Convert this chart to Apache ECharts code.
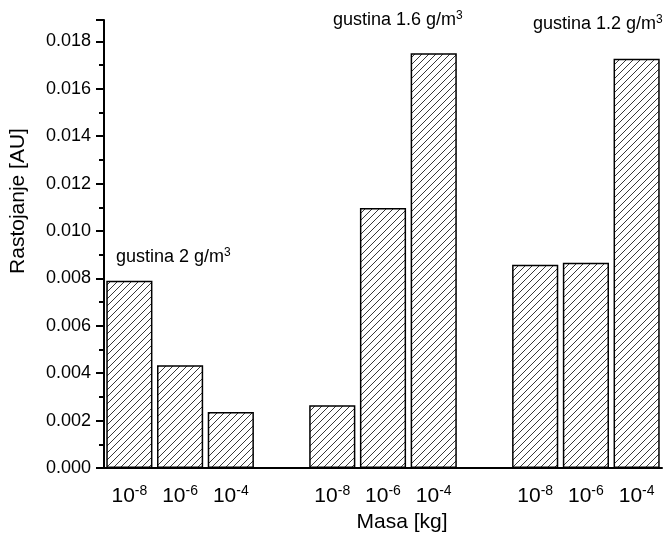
<!DOCTYPE html>
<html>
<head>
<meta charset="utf-8">
<script src="https://cdn.jsdelivr.net/npm/echarts@6/dist/echarts.min.js"></script>
<style>
  html, body { margin: 0; padding: 0; background: #fff; }
  #chart { width: 666px; height: 535px; }
</style>
</head>
<body>
<div id="chart"></div>
<script>
// masa (eksponent od 10) za svaku grupu
const exponents = ['-8', '-6', '-4']
// rastojanje [AU] po gustini
const gustina2 = [0.0079, 0.00433, 0.00236]
const gustina16 = [0.00265, 0.01097, 0.0175]
const gustina12 = [0.00857, 0.00866, 0.01726]
const groupNames = ['gustina 2 g/m', 'gustina 1.6 g/m', 'gustina 1.2 g/m']
const yTicks = [0, 0.002, 0.004, 0.006, 0.008, 0.010, 0.012, 0.014, 0.016, 0.018]

const font = 'Liberation Sans, Arial, sans-serif'

// kategorije sa praznim mestom izmedju grupa
const categories = []
const values = []
const groups = [gustina2, gustina16, gustina12]
groups.forEach((g, gi) => {
  if (gi > 0) {
    categories.push('')
    values.push('-')
  }
  g.forEach((v, i) => {
    categories.push(exponents[i])
    values.push(v)
  })
})

// srafura za stubove
function hatch () {
  const size = 7
  const c = document.createElement('canvas')
  c.width = size
  c.height = size
  const ctx = c.getContext('2d')
  ctx.fillStyle = '#fff'
  ctx.fillRect(0, 0, size, size)
  ctx.strokeStyle = '#222'
  ctx.lineWidth = 0.9
  for (let k = -1; k <= 1; k++) {
    ctx.beginPath()
    ctx.moveTo(k * size, size)
    ctx.lineTo(k * size + size, 0)
    ctx.stroke()
  }
  return c
}

const supRich = {
  b: { fontSize: 18, fontFamily: font, color: '#000' },
  s: { fontSize: 12, fontFamily: font, color: '#000', padding: [0, 0, 9, 0] }
}

const chart = echarts.init(document.getElementById('chart'))
chart.setOption({
  animation: false,
  grid: { left: 104, right: 4, top: 20, bottom: 67 },
  xAxis: [
    {
      type: 'category',
      data: categories,
      axisLine: { lineStyle: { color: '#000', width: 2 } },
      axisTick: { alignWithLabel: true, interval: 0, length: 8, lineStyle: { color: '#000', width: 2 } },
      axisLabel: {
        interval: 0,
        margin: 16,
        formatter: v => v ? '{b|10}{s|' + v + '}' : '',
        rich: {
          b: { fontSize: 21, fontFamily: font, color: '#000' },
          s: { fontSize: 14, fontFamily: font, color: '#000', padding: [0, 0, 11, 0] }
        }
      }
    },
    {
      type: 'category',
      data: categories,
      position: 'bottom',
      axisLine: { show: false },
      axisTick: { interval: 0, length: 4, lineStyle: { color: '#000', width: 2 } },
      axisLabel: { show: false }
    }
  ],
  yAxis: {
    type: 'value',
    min: 0,
    max: 0.0189,
    interval: 0.002,
    axisLine: { show: true, lineStyle: { color: '#000', width: 2 } },
    axisTick: { show: true, length: 8, lineStyle: { color: '#000', width: 2 } },
    minorTick: { show: true, splitNumber: 2, length: 5, lineStyle: { color: '#000', width: 2 } },
    splitLine: { show: false },
    axisLabel: {
      margin: 13,
      fontSize: 18,
      fontFamily: font,
      color: '#000',
      formatter: v => yTicks.some(t => Math.abs(t - v) < 1e-9) ? v.toFixed(3) : ''
    }
  },
  graphic: [
    {
      type: 'text',
      x: 18,
      y: 201,
      rotation: Math.PI / 2,
      style: { text: 'Rastojanje [AU]', font: '21px ' + font, fill: '#000', align: 'center', verticalAlign: 'middle' }
    },
    {
      type: 'text',
      x: 402,
      y: 522,
      style: { text: 'Masa [kg]', font: '21px ' + font, fill: '#000', align: 'center', verticalAlign: 'middle' }
    },
    {
      type: 'text',
      x: 116,
      y: 257,
      style: { text: '{b|' + groupNames[0] + '}{s|3}', rich: supRich, align: 'left', verticalAlign: 'middle' }
    },
    {
      type: 'text',
      x: 333,
      y: 20,
      style: { text: '{b|' + groupNames[1] + '}{s|3}', rich: supRich, align: 'left', verticalAlign: 'middle' }
    },
    {
      type: 'text',
      x: 533,
      y: 24,
      style: { text: '{b|' + groupNames[2] + '}{s|3}', rich: supRich, align: 'left', verticalAlign: 'middle' }
    }
  ],
  series: [{
    type: 'bar',
    data: values,
    barCategoryGap: '9%',
    itemStyle: {
      color: { image: hatch(), repeat: 'repeat' },
      borderColor: '#000',
      borderWidth: 1.5
    }
  }]
})
</script>
</body>
</html>
